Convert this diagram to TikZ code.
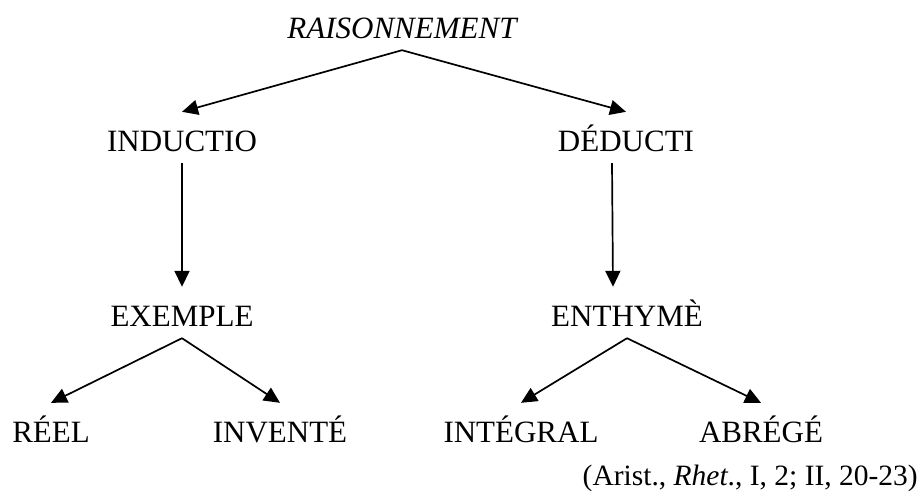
\documentclass[tikz,border=0pt]{standalone}
\usepackage{fontspec}
\setmainfont{Liberation Serif}
\usetikzlibrary{arrows.meta}

\begin{document}
\begin{tikzpicture}[x=1pt, y=-1pt,
    every node/.style = {font=\fontsize{31}{31}\selectfont, anchor=base,
      inner sep=0pt, text height=39pt, text depth=12pt},
    every edge/.style = {draw, line width=1.7pt,
      -{Triangle[length=16pt,width=15pt]}}]
  \useasboundingbox (0,0) rectangle (920,493);
  \node (rais) at (402,38)  {\itshape RAISONNEMENT};
  \node (indu) at (182,151) {INDUCTIO};
  \node (dedu) at (626,151) {DÉDUCTI};
  \node (exem) at (182,326) {EXEMPLE};
  \node (enth) at (627,326) {ENTHYMÈ};
  \node (reel) at (51,442)  {RÉEL};
  \node (inve) at (280,442) {INVENTÉ};
  \node (inte) at (521,442) {INTÉGRAL};
  \node (abre) at (761,442) {ABRÉGÉ};
  \node (cite) [anchor=base east, text height=, text depth=,
    font=\fontsize{29.5}{29.5}\selectfont] at (918,485)
    {(Arist., \textit{Rhet}., I, 2; II, 20-23)};
  \draw (rais.south) edge (indu.north);
  \draw (rais.south) edge (dedu.north);
  \draw (indu.south) edge (exem.north);
  \draw ([xshift=-14pt]dedu.south) edge ([xshift=-14pt]enth.north);
  \draw (exem.south) edge (reel.north);
  \draw (exem.south) edge (inve.north);
  \draw (enth.south) edge (inte.north);
  \draw (enth.south) edge (abre.north);
\end{tikzpicture}
\end{document}
